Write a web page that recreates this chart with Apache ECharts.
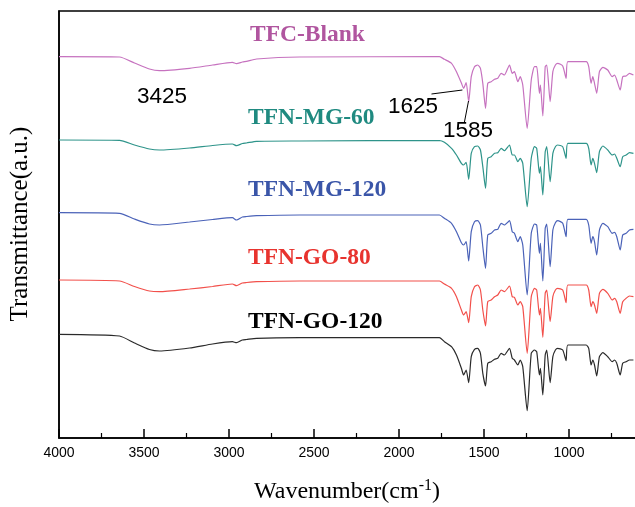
<!DOCTYPE html>
<html>
<head>
<meta charset="utf-8">
<script src="https://cdn.jsdelivr.net/npm/echarts@6/dist/echarts.min.js"></script>
<style>html,body{margin:0;padding:0;background:#fff}#c{width:635px;height:507px}</style>
</head>
<body>
<div id="c"></div>
<script>
// Wavenumber (cm-1)
const wavenumber = [4000,3644,3556,3468,3409,3232,3097,2980,2956,2921,2897,2838,2585,1762,1733,1691,1662,1633,1620,1605,1590,1575,1556,1537,1521,1507,1491,1478,1458,1438,1419,1399,1380,1350,1334,1321,1301,1287,1272,1246,1222,1203,1190,1174,1168,1154,1140,1131,1111,1095,1080,1066,1037,1017,1007,899,884,870,860,850,837,821,801,772,746,732,719,699,684,664,644,621];

// Transmittance (a.u., stacked with offsets)
const tfcBlank = [381.3,381,375,369,367.3,369.7,373,375.7,374.3,376,376.7,379,381,381.3,378.7,374.7,366.3,355,349.7,355.3,336.3,361.3,371.3,373,369.7,354.7,329.7,354.7,356.3,358.7,359.7,364.7,363,373,364.7,366.3,356.3,361.3,353,309.7,358,371.3,371.3,344.7,353,322,371.3,373,336.3,366.3,373,374.7,372,359.7,376.3,376.3,371.3,354.7,361.3,354.7,344.7,366.3,370.7,368,361.3,363,358,348,361.3,362,364.7,363];
const tfnMG60 = [298,297.7,293,289,288,290,292.5,294,292.3,294.5,295,296.7,297,297.5,295.7,289.7,283,274.7,273,275.7,258.7,284.7,291.3,292,288,271.3,249.7,279.7,281.3,284.7,285.3,289.7,287.3,293,283,283,276.3,279.7,274.7,231.3,279.7,291.3,289.7,264.7,271.3,243,286.3,291.3,256.3,284.7,291.3,293,291.3,279.7,294.7,294.7,289.7,273,279.7,274.7,265.3,286.3,292,288,283,284,279.7,271.3,281.3,283,285.3,284.7];
const tfnMG120 = [225.3,224.7,219,214,213,216,218.5,220.3,218,221,221.5,222.3,223,223,219.7,214.7,206.3,195.3,193,196.3,177,206.3,216.3,217.3,213,191.3,169.7,203,204.7,208,208.7,214.7,213,217.3,206.3,204.7,196.3,201.3,193,143,204.7,214,213,184.7,194.7,157,209.7,214,171.3,208,215.3,217.3,214.7,201.3,218.7,218.7,213,194.7,201.3,196.3,183,208,214.7,211.3,204.7,205.7,201.3,188,203,204.7,208,208.7];
const tfnGO80 = [158,157,151.5,147,146.3,149,151.5,154,152.3,155,155.5,156.3,157,157,154,149.7,141.3,128,123,126.3,115.3,141.3,151.3,153,148,128,112,136.3,138,141.3,143,148,146.3,152,141.3,140.7,133,136.3,131.3,84.7,141.3,149.7,148,123,129.7,100.7,144.7,148,116.3,141.3,148,149.7,148,135.3,153,153,148,131.3,136.3,133,124.7,144.7,148.7,144.7,138,139.7,136.3,124.7,136.3,139.7,142,141.3];
const tfnGO120 = [103.7,102,95,88.5,87,90,94,96.3,95.3,98,98.5,99.7,100.3,100.3,96.3,91.3,83,69.7,63,68,55.3,81.3,88.7,89.7,84.7,64.7,52,74.7,76.3,78.7,79.7,84.7,83,89.7,79.7,78,73,78,71.3,27.3,84.7,88,86.3,63,69.7,43,83,88,55.3,81.3,88,89.7,88,77.3,93,93,89.7,73,78,73,62,81.3,85.3,81.3,76.3,78,74.7,63,74.7,76.3,78,78];

const seriesNames = ['TFC-Blank','TFN-MG-60','TFN-MG-120','TFN-GO-80','TFN-GO-120'];
const seriesValues = [tfcBlank, tfnMG60, tfnMG120, tfnGO80, tfnGO120];
const lineColors = ['#c672bf','#2e948a','#4a62b8','#f2504b','#2a2a2a'];
const textColors = ['#b0559f','#1f8a80','#3a55a8','#e8332e','#000000'];
const xTicks = [4000,3500,3000,2500,2000,1500,1000];

const chart = echarts.init(document.getElementById('c'), null, {renderer:'canvas'});

const series = seriesValues.map((vals, k) => ({
  name: seriesNames[k],
  type: 'line',
  data: wavenumber.map((w, i) => [w, vals[i]]),
  showSymbol: false,
  smooth: 0.2,
  lineStyle: {width: 1.2, color: lineColors[k]},
  itemStyle: {color: lineColors[k]},
  animation: false,
  silent: true
}));

series[0].markLine = {
  silent: true,
  symbol: 'none',
  label: {show: false},
  lineStyle: {color: '#000', width: 1, type: 'solid'},
  data: [
    [{coord: [1809, 344]}, {coord: [1627, 348]}],
    [{coord: [1615, 316]}, {coord: [1591, 337]}]
  ]
};

chart.setOption({
  backgroundColor: '#fff',
  animation: false,
  grid: {left: 59, width: 595, top: 11, height: 427, show: true, borderColor: '#000', borderWidth: 1.5,
         containLabel: false, outerBoundsMode: 'none'},
  xAxis: {
    type: 'value', inverse: true, min: 500, max: 4000, interval: 500,
    axisLine: {show: true, lineStyle: {color: '#000', width: 1.5}},
    axisTick: {show: true, inside: true, length: 9, lineStyle: {color: '#000', width: 1.5}},
    minorTick: {show: true, splitNumber: 2, length: 5, lineStyle: {color: '#000', width: 1.2}},
    splitLine: {show: false},
    axisLabel: {
      color: '#000', fontSize: 14, fontFamily: 'Liberation Sans', margin: 8,
      formatter: v => xTicks.includes(v) ? String(v) : ''
    }
  },
  yAxis: {
    type: 'value', min: 0, max: 427,
    axisLine: {show: true, lineStyle: {color: '#000', width: 1.5}},
    axisTick: {show: false}, axisLabel: {show: false}, splitLine: {show: false}
  },
  series: series
});

const textEls = [];
const labelY = [35, 118, 190, 258, 322];
const labelX = [250, 248, 248, 248, 248];
seriesNames.forEach((n, k) => {
  textEls.push({type: 'text', x: labelX[k], y: labelY[k], silent: true,
    style: {text: n, fill: textColors[k], font: 'bold 23.5px "Liberation Serif"', textAlign: 'left', textVerticalAlign: 'middle'}});
});
const annotations = [['3425', 137, 97], ['1625', 388, 107], ['1585', 443, 131]];
annotations.forEach(a => {
  textEls.push({type: 'text', x: a[1], y: a[2], silent: true,
    style: {text: a[0], fill: '#000', font: '22.5px "Liberation Sans"', textAlign: 'left', textVerticalAlign: 'middle'}});
});
textEls.push({type: 'text', x: 347, y: 492, silent: true,
  style: {text: '{a|Wavenumber(cm}{s|-1}{a|)}', textAlign: 'center', textVerticalAlign: 'middle',
    rich: {a: {fontSize: 24, fontFamily: 'Liberation Serif', fill: '#000', color: '#000'},
           s: {fontSize: 16, fontFamily: 'Liberation Serif', fill: '#000', color: '#000', verticalAlign: 'top', padding: [0,0,12,0]}}}});
textEls.push({type: 'text', x: 20, y: 224, rotation: Math.PI / 2, silent: true,
  style: {text: 'Transmittance(a.u.)', fill: '#000', font: '25px "Liberation Serif"', textAlign: 'center', textVerticalAlign: 'middle'}});

chart.setOption({graphic: textEls});
</script>
</body>
</html>
